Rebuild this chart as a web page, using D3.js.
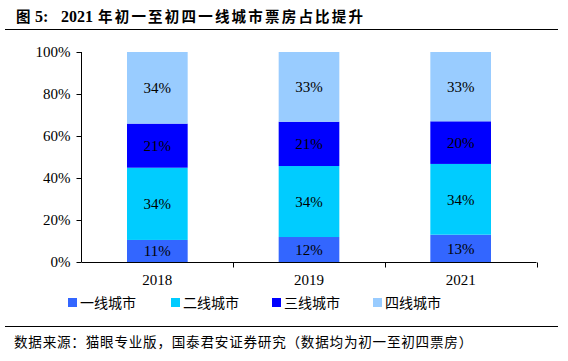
<!DOCTYPE html>
<html><head><meta charset="utf-8">
<script src="https://cdn.jsdelivr.net/npm/d3@7"></script>
<style>body{margin:0;background:#fff}svg{display:block}</style>
</head><body>
<script>
const categories = ["2018", "2019", "2021"];
const seriesNames = ["一线城市", "二线城市", "三线城市", "四线城市"];
const tier1 = [10.5, 11.9, 13.0];
const tier2 = [34.4, 33.8, 33.7];
const tier3 = [21.0, 21.1, 20.3];
const tier4 = [34.1, 33.2, 33.0];
const labels1 = ["11%", "12%", "13%"];
const labels2 = ["34%", "34%", "34%"];
const labels3 = ["21%", "21%", "20%"];
const labels4 = ["34%", "33%", "33%"];
const yTicks = [0, 20, 40, 60, 80, 100];
const colors = ["#3366FF", "#00CCFF", "#0000FF", "#99CCFF"];
const titleParts = ["图", "5:", "2021", "年初一至初四一线城市票房占比提升"];
const source = "数据来源：猫眼专业版，国泰君安证券研究（数据均为初一至初四票房）";

const W = 568, H = 361;
const svg = d3.select("body").append("svg").attr("width", W).attr("height", H);
const serif = "'Liberation Serif','Times New Roman',serif";
const cjk = "'Noto Sans CJK SC',sans-serif";

const tt = svg.append("text").attr("y", 22).attr("font-weight", "bold").attr("font-size", 15).attr("fill", "#000");
const tX = [16, 35, 61, 98];
const tF = [cjk, serif, serif, cjk];
titleParts.forEach((p, i) => {
  tt.append("tspan").attr("x", tX[i]).attr("font-family", tF[i])
    .attr("font-size", i === 1 || i === 2 ? 16 : 14.5)
    .attr("letter-spacing", i === 3 ? 2.2 : 0).text(p);
});
svg.append("line").attr("x1", 5).attr("x2", 558).attr("y1", 29.5).attr("y2", 29.5)
  .attr("stroke", "#000").attr("stroke-width", 1.2);

const x = d3.scaleBand().domain(categories).range([81.5, 536.5]).paddingInner(0.6).paddingOuter(0.3);
const y = d3.scaleLinear().domain([0, 100]).range([262, 52]);

const series = [tier1, tier2, tier3, tier4];
const labels = [labels1, labels2, labels3, labels4];
const rows = categories.map((c, i) => {
  const o = {cat: c};
  seriesNames.forEach((s, k) => o[s] = series[k][i]);
  return o;
});
const stacked = d3.stack().keys(seriesNames)(rows);

const g = svg.append("g");
stacked.forEach((layer, k) => {
  g.selectAll(null).data(layer).join("rect")
    .attr("x", d => x(d.data.cat))
    .attr("width", x.bandwidth())
    .attr("y", d => y(d[1]))
    .attr("height", d => y(d[0]) - y(d[1]))
    .attr("fill", colors[k]);
  g.selectAll(null).data(layer).join("text")
    .attr("x", d => x(d.data.cat) + x.bandwidth() / 2)
    .attr("y", d => (y(d[0]) + y(d[1])) / 2 + 5.5)
    .attr("text-anchor", "middle")
    .attr("font-family", serif).attr("font-size", 15).attr("fill", "#000")
    .text((d, i) => labels[k][i]);
});

// y axis
const yAxis = svg.append("g").attr("transform", "translate(81.5,0)")
  .call(d3.axisLeft(y).tickValues(yTicks).tickFormat(d => d + "%").tickSize(5).tickPadding(6));
yAxis.selectAll("text").attr("font-family", serif).attr("font-size", 15).attr("fill", "#000");
yAxis.selectAll("line,path").attr("stroke", "#000");
yAxis.select(".domain").attr("d", "M0,52V262");

// x axis
const xAxis = svg.append("g").attr("transform", "translate(0,262.5)")
  .call(d3.axisBottom(x).tickSize(0).tickPadding(12));
xAxis.selectAll("text").attr("font-family", serif).attr("font-size", 15).attr("fill", "#000");
xAxis.select(".domain").attr("stroke", "#000").attr("d", "M81.5,0H536.5");
const step = x.step();
const bounds = [0, 1, 2].map(i => x(categories[i]) + x.bandwidth() / 2 + step / 2);
xAxis.selectAll(".sep").data(bounds).join("line")
  .attr("x1", d => Math.round(d) + 0.5).attr("x2", d => Math.round(d) + 0.5)
  .attr("y1", 0).attr("y2", 5).attr("stroke", "#000");

// legend
const legX = [68, 171, 272, 373];
const leg = svg.append("g");
seriesNames.forEach((s, k) => {
  leg.append("rect").attr("x", legX[k]).attr("y", 298).attr("width", 9).attr("height", 9).attr("fill", colors[k]);
  leg.append("text").attr("x", legX[k] + 12).attr("y", 308)
    .attr("font-family", cjk).attr("font-size", 14).attr("fill", "#000").text(s);
});

svg.append("line").attr("x1", 5).attr("x2", 558).attr("y1", 326.5).attr("y2", 326.5)
  .attr("stroke", "#000").attr("stroke-width", 1);
svg.append("text").attr("x", 14).attr("y", 347)
  .attr("font-family", cjk).attr("font-size", 13.6).attr("letter-spacing", 0.75).attr("fill", "#000").text(source);
</script>
</body></html>
